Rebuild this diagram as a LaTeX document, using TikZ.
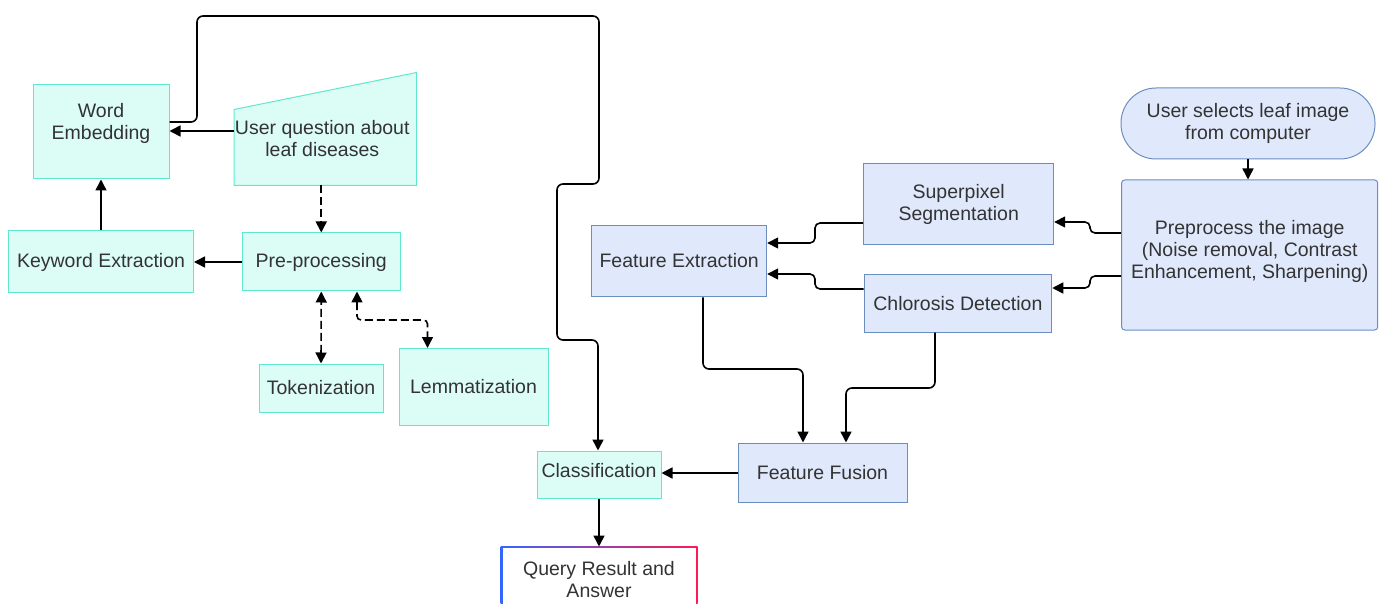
\documentclass[tikz,border=0pt]{standalone}
\usepackage{fontspec}
\setmainfont{Liberation Sans}
\usetikzlibrary{arrows.meta,calc,backgrounds}
\definecolor{cyF}{HTML}{DCFDF5}
\definecolor{cyD}{HTML}{5FE8CE}
\definecolor{blF}{HTML}{E0E8FC}
\definecolor{blD}{HTML}{6C8EBF}
\definecolor{txt}{HTML}{333333}
\definecolor{qB}{HTML}{3366FF}
\definecolor{qP}{HTML}{9A3CC8}
\definecolor{qR}{HTML}{FF1A50}
\tikzset{
  lbl/.style={font=\fontsize{19.5}{22}\selectfont, text=txt, align=center},
  base/.style={lbl, inner sep=0pt, line width=1pt},
  cbox/.style={base, draw=cyD, fill=cyF},
  bbox/.style={base, draw=blD, fill=blF},
  arr/.style={line width=1.6pt, -{Triangle[length=11pt,width=11pt]}, rounded corners=6pt},
  darr/.style={arr, dash pattern=on 8pt off 4pt},
  ddarr/.style={darr, {Triangle[length=11pt,width=11pt]}-{Triangle[length=11pt,width=11pt]}},
}
\begin{document}
\begin{tikzpicture}[x=1pt,y=-1pt]
\useasboundingbox (0,0) rectangle (1385,604);

% ---- left (text) branch ----
\node[cbox, minimum width=136pt, minimum height=94pt,
      label={[lbl,yshift=9pt]center:{Word\\Embedding}}] (we) at (101,132) {};
\node[base, minimum width=181.5pt, minimum height=112pt,
      label={[lbl,xshift=-3pt,yshift=-10pt]center:{User question about\\leaf diseases}}] (uq) at (325.25,129) {};
\begin{scope}[on background layer]
  \draw[draw=cyD, fill=cyF, line width=1pt] (uq.south west) -- (uq.south east) -- (uq.north east)
        -- ([yshift=-37pt]uq.north west) -- cycle;
\end{scope}
\node[cbox, minimum width=185pt, minimum height=62pt] (kw) at (101,262) {Keyword Extraction};
\node[cbox, minimum width=157.5pt, minimum height=58pt] (pre) at (321.25,262) {Pre-processing};
\node[cbox, minimum width=124pt, minimum height=48pt] (tok) at (321,388) {Tokenization};
\node[cbox, minimum width=149pt, minimum height=77pt] (lem) at (473.5,387) {Lemmatization};
\node[cbox, minimum width=124pt, minimum height=47pt,
      label={[lbl,yshift=4pt]center:Classification}] (cls) at (599,474.5) {};

% query result box with gradient border
\shade[left color=qB, middle color=qP, right color=qR] (500.5,546.5) rectangle (697.5,612);
\node[base, fill=white, minimum width=193pt, minimum height=63pt] (qr) at (599,579.5) {Query Result and\\Answer};

% ---- right (image) branch ----
\node[bbox, rounded corners=35pt, minimum width=254pt, minimum height=71pt] (us) at (1248,123.5) {User selects leaf image\\from computer};
\node[bbox, rounded corners=3pt, minimum width=256pt, minimum height=150pt,
      label={[lbl,yshift=4pt]center:{Preprocess the image\\(Noise removal, Contrast\\Enhancement, Sharpening)}}] (pp) at (1249.7,255) {};
\node[bbox, minimum width=190pt, minimum height=81pt] (sup) at (958.7,204.4) {Superpixel\\Segmentation};
\node[bbox, minimum width=187.7pt, minimum height=57.3pt] (chl) at (957.9,303.4) {Chlorosis Detection};
\node[bbox, minimum width=175pt, minimum height=71.7pt] (fe) at (679.2,261) {Feature Extraction};
\node[bbox, minimum width=169pt, minimum height=59pt] (ff) at (822.5,472.5) {Feature Fusion};

% ---- connectors, left ----
\draw[arr] (uq.west |- 0,131) -- (we.east |- 0,131);
\draw[arr] (we.east |- 0,122) -- (197,122) -- (197,16) -- (599,16) -- (599,184) -- (557,184)
           -- (557,340) -- (598,340) -- (cls.north -| 598,0);
\draw[darr] (pre.north |- uq.south) -- (pre.north);
\draw[arr] (pre.west) -- (kw.east);
\draw[arr] (kw.north) -- (we.south);
\draw[ddarr] (tok.north) -- (pre.south);
\draw[ddarr, rounded corners=4pt] (pre.south -| 357,0) -- (357,320) -- (427.5,320) -- (lem.north -| 427.5,0);
\draw[arr] (ff.west |- 0,473) -- (cls.east |- 0,473);
\draw[arr] (cls.south) -- (qr.north |- 0,546.5);

% ---- connectors, right ----
\draw[arr] (us.south) -- (us.south |- pp.north);
\draw[arr, rounded corners=5pt] (pp.west |- 0,233) -- (1090,233) -- (1090,222) -- (sup.east |- 0,222);
\draw[arr, rounded corners=5pt] (pp.west |- 0,276) -- (1090,276) -- (1090,288) -- (chl.east |- 0,288);
\draw[arr, rounded corners=5pt] (sup.west |- 0,223) -- (815,223) -- (815,243) -- (fe.east |- 0,243);
\draw[arr, rounded corners=5pt] (chl.west |- 0,289) -- (815,289) -- (815,274) -- (fe.east |- 0,274);
\draw[arr] (fe.south -| 703,0) -- (703,369) -- (803,369) -- (ff.north -| 803,0);
\draw[arr] (chl.south -| 935,0) -- (935,388) -- (846,388) -- (ff.north -| 846,0);
\end{tikzpicture}
\end{document}
